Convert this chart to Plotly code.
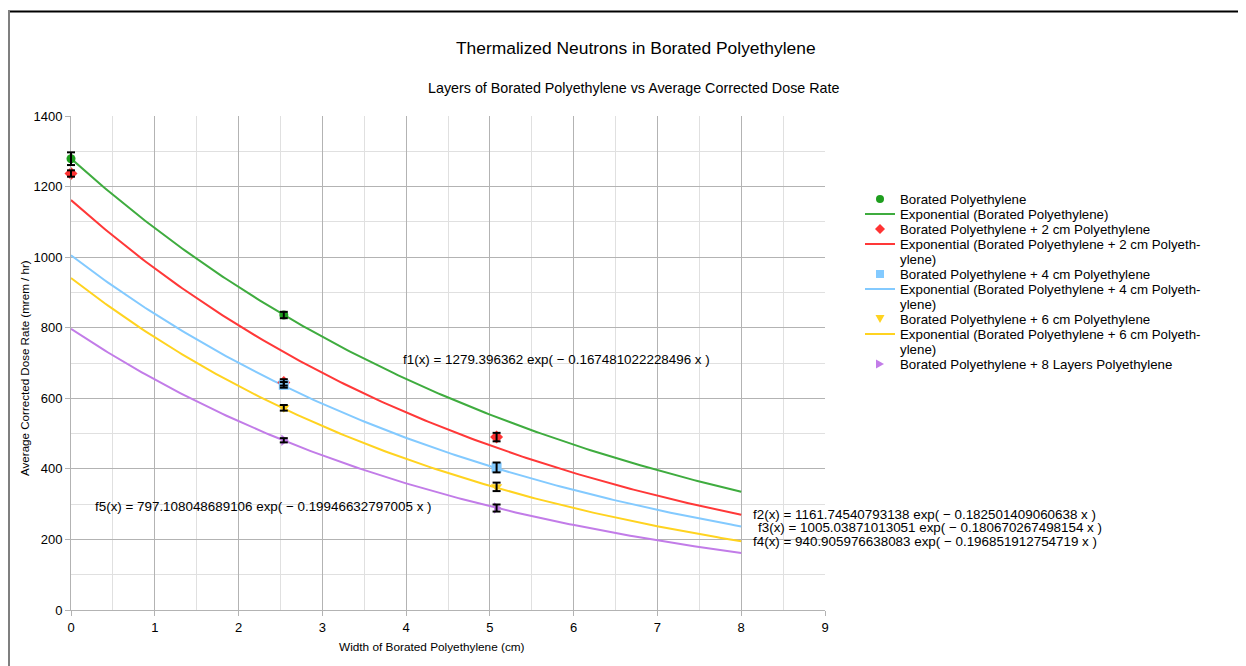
import numpy as np
import plotly.graph_objects as go

# ---- data ----
series_names = [
    "Borated Polyethylene",
    "Borated Polyethylene + 2 cm Polyethylene",
    "Borated Polyethylene + 4 cm Polyethylene",
    "Borated Polyethylene + 6 cm Polyethylene",
    "Borated Polyethylene + 8 Layers Polyethylene",
]
x_green = [0, 2.54]
y_green = [1279, 836]
e_green = [18, 9]
x_red = [0, 2.54, 5.08]
y_red = [1237, 645, 490]
e_red = [9, 9, 12]
x_blue = [2.54, 5.08]
y_blue = [638, 404]
e_blue = [8, 14]
x_yellow = [2.54, 5.08]
y_yellow = [573, 349]
e_yellow = [8, 12]
x_purple = [2.54, 5.08]
y_purple = [481, 289]
e_purple = [6, 10]

# exponential trendline coefficients as displayed in the chart: f(x) = A exp(-k x)
trend_A = [1279.396362, 1161.74540793138, 1005.03871013051, 940.905976638083, 797.108048689106]
trend_k = [0.167481022228496, 0.182501409060638, 0.180670267498154, 0.196851912754719, 0.19946632797005]
trend_x_range = [0, 8]

trend_labels = [
    "f1(x) = 1279.396362 exp( − 0.167481022228496 x )",
    "f2(x) = 1161.74540793138 exp( − 0.182501409060638 x )",
    "f3(x) = 1005.03871013051 exp( − 0.180670267498154 x )",
    "f4(x) = 940.905976638083 exp( − 0.196851912754719 x )",
    "f5(x) = 797.108048689106 exp( − 0.19946632797005 x )",
]

legend_lines = [
    "Borated Polyethylene",
    "Exponential (Borated Polyethylene)",
    "Borated Polyethylene + 2 cm Polyethylene",
    "Exponential (Borated Polyethylene + 2 cm Polyeth-",
    "ylene)",
    "Borated Polyethylene + 4 cm Polyethylene",
    "Exponential (Borated Polyethylene + 4 cm Polyeth-",
    "ylene)",
    "Borated Polyethylene + 6 cm Polyethylene",
    "Exponential (Borated Polyethylene + 6 cm Polyeth-",
    "ylene)",
    "Borated Polyethylene + 8 Layers Polyethylene",
]

colors_marker = ["#1e9e1e", "#ff3333", "#83caff", "#ffd320", "#c27ce8"]
colors_line = ["#3fac3f", "#ff3838", "#83caff", "#ffd320", "#c27ce8"]
symbols = ["circle", "diamond", "square", "triangle-down", "triangle-right"]
marker_sizes = [9, 10, 10, 10, 10]

pts = [
    (x_green, y_green, e_green),
    (x_red, y_red, e_red),
    (x_blue, y_blue, e_blue),
    (x_yellow, y_yellow, e_yellow),
    (x_purple, y_purple, e_purple),
]

FONT = "Liberation Sans, Arial, sans-serif"
X_RANGE = [0, 9]
Y_RANGE = [0, 1400]

# screen-pixel layout (page body has an 8px margin)
OFF = 8
L, R, T, B = 71, 825, 116, 610
W, H = R - L, B - T
FIG_W, FIG_H = 1246 - OFF, 666 - OFF


def px(x):
    return (x - L) / W


def py(y):
    return (B - y) / H


fig = go.Figure()

xs = np.linspace(trend_x_range[0], trend_x_range[1], 200)
for i in range(5):
    fig.add_trace(go.Scatter(
        x=xs, y=trend_A[i] * np.exp(-trend_k[i] * xs), mode="lines", showlegend=False,
        line=dict(color=colors_line[i], width=2),
    ))
for i in range(5):
    xp, yp, ep = pts[i]
    fig.add_trace(go.Scatter(
        x=xp, y=yp, mode="markers", name=series_names[i], showlegend=False,
        cliponaxis=False,
        marker=dict(symbol=symbols[i], size=marker_sizes[i], color=colors_marker[i]),
    ))

shapes = []
# error bars drawn above the markers (not clipped at the axis edge)
cap = 4 / W  # half cap width in paper units
for i in range(5):
    xp, yp, ep = pts[i]
    for xv, yv, ev in zip(xp, yp, ep):
        xpap = (xv - X_RANGE[0]) / (X_RANGE[1] - X_RANGE[0])
        ln = dict(color="black", width=2)
        shapes.append(dict(type="line", xref="paper", yref="y", x0=xpap, x1=xpap,
                           y0=yv - ev, y1=yv + ev, line=ln))
        shapes.append(dict(type="line", xref="paper", yref="y", x0=xpap - cap, x1=xpap + cap,
                           y0=yv - ev, y1=yv - ev, line=ln))
        shapes.append(dict(type="line", xref="paper", yref="y", x0=xpap - cap, x1=xpap + cap,
                           y0=yv + ev, y1=yv + ev, line=ln))

# ---- custom legend ----
row0, row_h = 199, 15
legend_rows = [row0 + row_h * j for j in range(len(legend_lines))]
marker_rows = [legend_rows[0], legend_rows[2], legend_rows[5], legend_rows[8], legend_rows[11]]
line_rows = [legend_rows[1], legend_rows[3], legend_rows[6], legend_rows[9]]
leg_marker_x, leg_line_x0, leg_line_x1, leg_text_x = 880, 865, 895, 898


def poly_path(cx, cy, offsets):
    pts_ = ["%s%.6f,%.6f" % ("M" if k == 0 else "L", px(cx + dx), py(cy + dy))
            for k, (dx, dy) in enumerate(offsets)]
    return " ".join(pts_) + " Z"


legend_glyphs = [
    None,  # circle handled separately
    [(0, -5), (5, 0), (0, 5), (-5, 0)],            # diamond
    [(-4, -4), (4, -4), (4, 4), (-4, 4)],          # square
    [(-4.5, -4), (4.5, -4), (0, 4)],               # triangle-down
    [(-4, -4.5), (4, 0), (-4, 4.5)],               # triangle-right
]
for i in range(5):
    cy = marker_rows[i]
    if i == 0:
        shapes.append(dict(type="circle", xref="paper", yref="paper",
                           x0=px(leg_marker_x - 4), x1=px(leg_marker_x + 4),
                           y0=py(cy + 4), y1=py(cy - 4),
                           fillcolor=colors_marker[i], line=dict(width=0)))
    else:
        shapes.append(dict(type="path", xref="paper", yref="paper",
                           path=poly_path(leg_marker_x, cy, legend_glyphs[i]),
                           fillcolor=colors_marker[i], line=dict(width=0)))

annotations = []
for txt, ry in zip(legend_lines, legend_rows):
    annotations.append(dict(
        x=px(leg_text_x), y=py(ry), xref="paper", yref="paper", text=txt, showarrow=False,
        xanchor="left", yanchor="middle", font=dict(family=FONT, size=13.3, color="black"),
    ))

for i, ry in enumerate(line_rows):
    shapes.append(dict(type="line", xref="paper", yref="paper",
                       x0=px(leg_line_x0), x1=px(leg_line_x1), y0=py(ry), y1=py(ry),
                       line=dict(color=colors_line[i], width=2)))

# frame
shapes.append(dict(type="line", xref="paper", yref="paper", x0=px(8), x1=px(1246),
                   y0=py(11.5), y1=py(11.5), line=dict(color="black", width=2)))
shapes.append(dict(type="line", xref="paper", yref="paper", x0=px(9), x1=px(9),
                   y0=py(11), y1=py(670), line=dict(color="#7f7f7f", width=2)))

# equation labels
ann_pos = [(401, 359), (751, 514), (756, 527), (751, 541), (93, 506)]
for lbl, (ax_, ay_) in zip(trend_labels, ann_pos):
    annotations.append(dict(
        x=px(ax_), y=py(ay_), xref="paper", yref="paper",
        text=lbl, showarrow=False, xanchor="left", yanchor="middle",
        font=dict(family=FONT, size=13.4, color="black"),
    ))

# titles
annotations.append(dict(
    x=px(635.5), y=py(48), xref="paper", yref="paper",
    text="Thermalized Neutrons in Borated Polyethylene", showarrow=False,
    xanchor="center", yanchor="middle", font=dict(family=FONT, size=17.4, color="black"),
))
annotations.append(dict(
    x=px(633.5), y=py(88), xref="paper", yref="paper",
    text="Layers of Borated Polyethylene vs Average Corrected Dose Rate", showarrow=False,
    xanchor="center", yanchor="middle", font=dict(family=FONT, size=14.3, color="black"),
))
annotations.append(dict(
    x=px(432), y=py(647), xref="paper", yref="paper",
    text="Width of Borated Polyethylene (cm)", showarrow=False,
    xanchor="center", yanchor="middle", font=dict(family=FONT, size=11.8, color="black"),
))
annotations.append(dict(
    x=px(24), y=py(368), xref="paper", yref="paper", textangle=-90,
    text="Average Corrected Dose Rate (mrem / hr)", showarrow=False,
    xanchor="center", yanchor="middle", font=dict(family=FONT, size=11.6, color="black"),
))

fig.update_layout(
    width=FIG_W, height=FIG_H,
    margin=dict(l=L - OFF, r=FIG_W - (R - OFF), t=T - OFF, b=FIG_H - (B - OFF), pad=0),
    paper_bgcolor="white", plot_bgcolor="white",
    font=dict(family=FONT, size=13, color="black"),
    annotations=annotations, shapes=shapes,
    showlegend=False,
    xaxis=dict(range=X_RANGE, dtick=1, showgrid=True, gridcolor="#b3b3b3", gridwidth=1,
               minor=dict(dtick=0.5, showgrid=True, gridcolor="#e0e0e0"),
               showline=True, linecolor="#b3b3b3", linewidth=1,
               ticks="outside", ticklen=5, tickcolor="#b3b3b3", zeroline=False,
               tickfont=dict(size=13)),
    yaxis=dict(range=Y_RANGE, dtick=200, showgrid=True, gridcolor="#b3b3b3", gridwidth=1,
               minor=dict(dtick=100, showgrid=True, gridcolor="#e0e0e0"),
               showline=True, linecolor="#b3b3b3", linewidth=1,
               ticks="outside", ticklen=5, tickcolor="#b3b3b3", zeroline=False,
               tickfont=dict(size=13)),
)

fig.write_html("out.html")
